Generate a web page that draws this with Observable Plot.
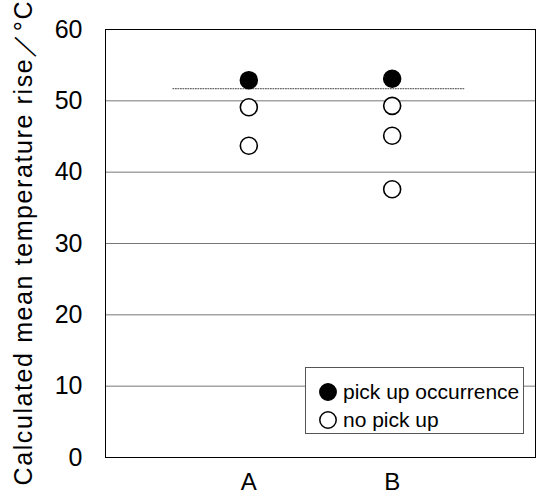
<!DOCTYPE html>
<html>
<head>
<meta charset="utf-8">
<script src="https://cdn.jsdelivr.net/npm/d3@7"></script>
<script src="https://cdn.jsdelivr.net/npm/@observablehq/plot@0.6"></script>
<style>
  html, body { margin: 0; padding: 0; background: #fff; }
  #wrap { position: relative; width: 537px; height: 495px; font-family: "Liberation Sans", Arial, sans-serif; }
  #legend { position: absolute; left: 305px; top: 367px; width: 219px; height: 67px; background: #fff; border: 1px solid #555; box-sizing: border-box; font-size: 21px; color: #000; }
  .row { position: absolute; left: 12px; display: flex; align-items: center; }
  .row svg { margin-right: 5px; }
</style>
</head>
<body>
<div id="wrap"></div>
<script>
// Categories and their positions on the x axis
const categories = ["A", "B"];
const categoryPosition = [1, 2];

// pick up occurrence (filled)
const pickupCategory = ["A", "B"];
const pickupValue = [52.9, 53.1];

// no pick up (open)
const noPickupCategory = ["A", "A", "B", "B", "B"];
const noPickupValue = [49.1, 43.7, 49.3, 45.1, 37.6];

// dotted threshold line
const thresholdValue = 51.7;
const thresholdSpan = [0.47, 2.5];

const yTicks = [0, 10, 20, 30, 40, 50, 60];
const gridValues = [10, 20, 30, 40, 50];
const yLabel = "Calculated mean temperature rise／°C";

const pos = c => categoryPosition[categories.indexOf(c)];
const pickup = pickupCategory.map((c, i) => ({x: pos(c), y: pickupValue[i]}));
const noPickup = noPickupCategory.map((c, i) => ({x: pos(c), y: noPickupValue[i]}));
const threshold = thresholdSpan.map(x => ({x, y: thresholdValue}));

const chart = Plot.plot({
  width: 537,
  height: 495,
  marginLeft: 105,
  marginRight: 2,
  marginTop: 29,
  marginBottom: 38,
  style: {fontFamily: "'Liberation Sans', Arial, sans-serif", background: "#fff", color: "#000"},
  x: {type: "linear", domain: [0, 3]},
  y: {domain: [0, 60]},
  marks: [
    Plot.ruleY(gridValues, {stroke: "#777", strokeWidth: 1}),
    Plot.line(threshold, {x: "x", y: "y", stroke: "#444", strokeWidth: 1, strokeDasharray: "1,1.5"}),
    Plot.frame({stroke: "#000", strokeWidth: 1}),
    Plot.dot(noPickup, {x: "x", y: "y", r: 8.5, fill: "#fff", stroke: "#000", strokeWidth: 1.6}),
    Plot.dot(pickup, {x: "x", y: "y", r: 8.5, fill: "#000", stroke: "#000"}),
    Plot.axisY({ticks: yTicks, tickSize: 0, tickPadding: 23, fontSize: 25, label: null}),
    Plot.axisY({ticks: [], tickSize: 0, fontSize: 25,
      label: yLabel, labelAnchor: "center", labelArrow: "none", labelOffset: 91}),
    Plot.axisX({ticks: categoryPosition, tickFormat: d => categories[categoryPosition.indexOf(d)],
      tickSize: 0, tickPadding: 15, fontSize: 24, label: null})
  ]
});

// stretch the axis label along its baseline like the reference lettering
d3.select(chart).selectAll("text")
  .filter(function() { return this.textContent === yLabel; })
  .attr("textLength", 484).attr("lengthAdjust", "spacing");

const wrap = document.getElementById("wrap");
wrap.appendChild(chart);

const legend = document.createElement("div");
legend.id = "legend";
const items = [
  {label: "pick up occurrence", fill: "#000", top: 12},
  {label: "no pick up", fill: "#fff", top: 40}
];
for (const it of items) {
  const row = document.createElement("div");
  row.className = "row";
  row.style.top = it.top + "px";
  row.innerHTML = `<svg width="20" height="20"><circle cx="10" cy="10" r="8.2" fill="${it.fill}" stroke="#000" stroke-width="1.5"/></svg><span>${it.label}</span>`;
  legend.appendChild(row);
}
wrap.appendChild(legend);
</script>
</body>
</html>
